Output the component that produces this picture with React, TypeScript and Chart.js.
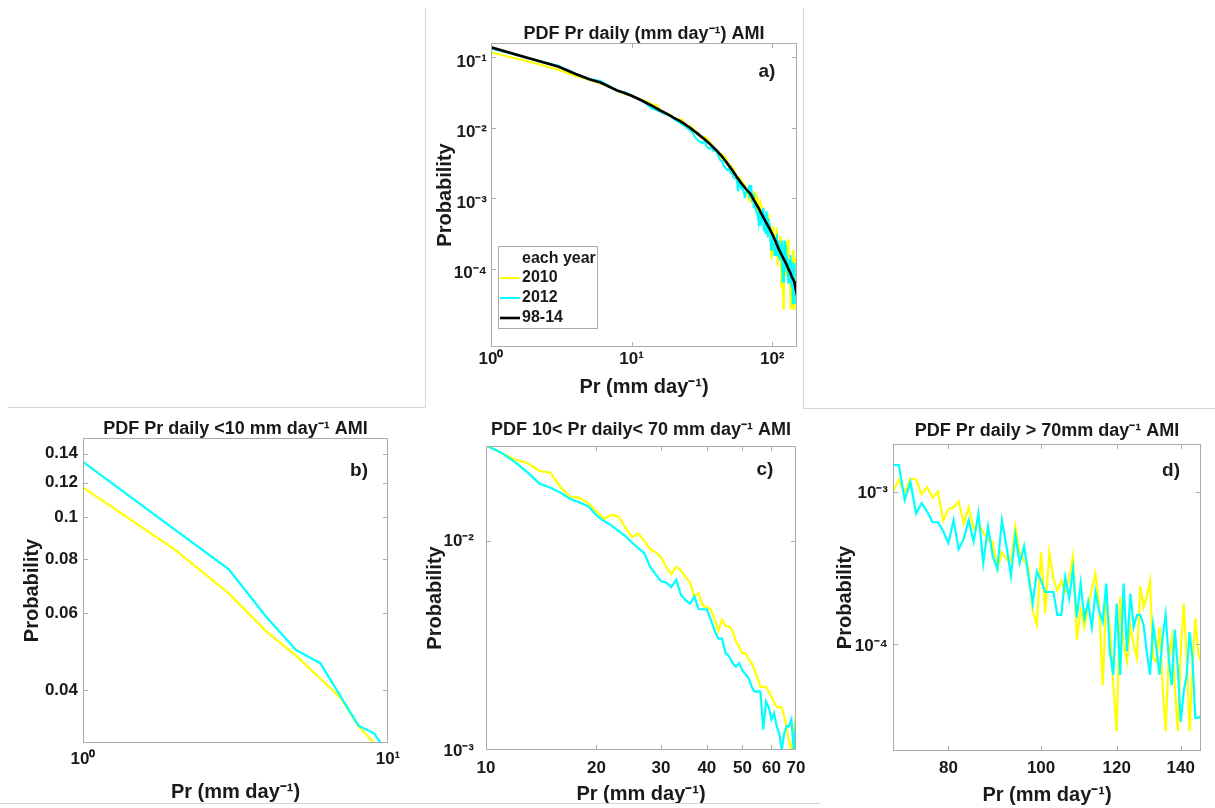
import React, { useEffect, useRef } from "react";
import { Chart, registerables } from "chart.js";

Chart.register(...registerables);

// ---------------- data ----------------
// panel b: Pr < 10 mm/day
const lowX = [1, 2, 3, 4, 5, 6, 7, 8, 9, 10];
const low2010 = [0.117, 0.0841, 0.0668, 0.0545, 0.0479, 0.0425, 0.0383, 0.033, 0.0302, 0.0285];
const low2012 = [0.1339, 0.0935, 0.0759, 0.0588, 0.0494, 0.0461, 0.0386, 0.0331, 0.0318, 0.0285];

// panel c: 10 < Pr < 70 mm/day
const midX = [
  10, 11, 12, 13, 14, 15, 16, 17, 18, 19, 20, 21, 22, 23, 24, 25, 26, 27, 28, 29,
  30, 31, 32, 33, 34, 35, 36, 37, 38, 39, 40, 41, 42, 43, 44, 45, 46, 47, 48, 49,
  50, 51, 52, 53, 54, 55, 56, 57, 58, 59, 60, 61, 62, 63, 64, 65, 66, 67, 68, 69, 70,
];
const mid2010 = [
  0.0285, 0.0263, 0.0244, 0.0234, 0.0215, 0.0211, 0.0179, 0.0162, 0.016, 0.0151,
  0.0138, 0.0127, 0.0133, 0.013, 0.0115, 0.0104, 0.0108, 0.01, 0.0091, 0.0088,
  0.0083, 0.0075, 0.0069, 0.0075, 0.0072, 0.0067, 0.0063, 0.0054, 0.0056, 0.0049,
  0.0048, 0.0047, 0.0042, 0.0037, 0.0042, 0.0039, 0.0039, 0.0037, 0.0033, 0.0031,
  0.0029, 0.0029, 0.0027, 0.0026, 0.0024, 0.0022, 0.002, 0.002, 0.002, 0.0019,
  0.0018, 0.0017, 0.0016, 0.0016, 0.0016, 0.00145, 0.0013, 0.0011, 0.00098, 0.0012, 0.00145,
];
const mid2012 = [
  0.0285, 0.0263, 0.0237, 0.0211, 0.0187, 0.0179, 0.0169, 0.0158, 0.0152, 0.0146,
  0.0132, 0.0124, 0.0118, 0.0111, 0.0105, 0.0098, 0.0092, 0.0087, 0.0075, 0.0069,
  0.0064, 0.0063, 0.006, 0.0065, 0.0055, 0.0052, 0.005, 0.0054, 0.0047, 0.0047,
  0.0047, 0.0042, 0.0037, 0.0034, 0.0034, 0.0029, 0.0028, 0.0026, 0.0025, 0.0026,
  0.0024, 0.0023, 0.0022, 0.002, 0.0019, 0.0019, 0.0019, 0.00125, 0.0017, 0.0016,
  0.0014, 0.0015, 0.0013, 0.0012, 0.001, 0.0012, 0.0013, 0.0013, 0.0014, 0.001, 0.0014,
];

// panel d: Pr > 70 mm/day
const highX = [
  70, 71, 72, 73, 74, 75, 76, 77, 78, 79, 80, 81, 82, 83, 84, 85, 86, 87, 88, 89,
  90, 91, 92, 93, 94, 95, 96, 97, 98, 99, 100, 101, 102, 103, 104, 105, 106, 107, 108, 109,
  110, 111, 112, 113, 114, 115, 116, 117, 118, 119, 120, 121, 122, 123, 124, 125, 126, 127, 128, 129,
  130, 131, 132, 133, 134, 135, 136, 137, 138, 139, 140, 141, 142, 143, 144, 145, 146, 147,
];
const high2010 = [
  1.0e-3, 1.2e-3, 9.8e-4, 1.22e-3, 1.2e-3, 9.6e-4, 1.07e-3, 9.1e-4, 1.0e-3, 6.5e-4,
  7.7e-4, 7.9e-4, 8.6e-4, 6.2e-4, 7.9e-4, 5.7e-4, 6.2e-4, 5.4e-4, 4.8e-4, 4.7e-4,
  3.1e-4, 4.0e-4, 3.6e-4, 3.5e-4, 5.9e-4, 4.0e-4, 3.5e-4, 3.2e-4, 1.65e-4, 1.34e-4,
  4.0e-4, 1.6e-4, 4.0e-4, 2.7e-4, 2.25e-4, 2.6e-4, 2.2e-4, 2.7e-4, 3.75e-4, 1.07e-4,
  1.7e-4, 1.3e-4, 1.75e-4, 2.3e-4, 2.9e-4, 1.8e-4, 5.4e-5, 2.05e-4, 1.3e-4, 5.4e-5,
  2.7e-5, 2.05e-4, 9.9e-5, 7.7e-5, 1.3e-4, 9.9e-5, 8.1e-5, 2.4e-4, 1.75e-4, 2.05e-4,
  2.6e-4, 8.1e-5, 7.7e-5, 1.3e-4, 5.4e-5, 2.7e-5, 8.1e-5, 1.1e-4, 5.4e-5, 2.7e-5,
  8.9e-5, 1.85e-4, 8.1e-5, 2.7e-5, 7.0e-5, 1.48e-4, 8.9e-5, 7.7e-5,
];
const high2012 = [
  1.49e-3, 1.49e-3, 8.8e-4, 1.16e-3, 7.2e-4, 8.4e-4, 7.4e-4, 6.3e-4, 6.3e-4, 5.5e-4,
  4.6e-4, 6.5e-4, 4.2e-4, 4.9e-4, 6.5e-4, 4.7e-4, 7.2e-4, 3.4e-4, 5.9e-4, 3.8e-4,
  3.1e-4, 6.5e-4, 4.4e-4, 2.8e-4, 5.2e-4, 3.4e-4, 4.4e-4, 2.8e-4, 1.85e-4, 3.0e-4,
  2.6e-4, 2.2e-4, 2.2e-4, 2.2e-4, 1.56e-4, 1.56e-4, 2.75e-4, 2.0e-4, 3.1e-4, 1.5e-4,
  2.5e-4, 1.48e-4, 1.9e-4, 1.3e-4, 2.2e-4, 1.65e-4, 1.4e-4, 2.5e-4, 9.0e-5, 6.3e-5,
  1.85e-4, 6.3e-5, 2.5e-4, 9.0e-5, 2.15e-4, 1.3e-4, 1.56e-4, 1.56e-4, 1.34e-4, 9.0e-5,
  6.3e-5, 1.34e-4, 9.5e-5, 6.3e-5, 1.1e-4, 1.56e-4, 8.1e-5, 5.4e-5, 1.25e-4, 7.0e-5,
  3.1e-5, 4.9e-5, 6.2e-5, 1.2e-4, 8.1e-5, 3.3e-5, 3.3e-5, 3.4e-5,
];

// panel a: 1998-2014 climatology
const climX = [
  1, 2, 3, 4, 5, 6, 7, 8, 9, 10, 12, 14, 16, 18, 20, 22, 24, 26, 28, 30, 33, 36, 40, 44,
  48, 52, 56, 60, 65, 70, 75, 80, 85, 90, 95, 100, 105, 110, 115, 120, 125, 130, 135,
  138, 141, 143, 145, 147,
];
const climY = [
  0.139, 0.093, 0.074, 0.058, 0.049, 0.044, 0.038, 0.0335, 0.031, 0.0285, 0.024, 0.0205,
  0.0176, 0.0156, 0.0138, 0.0125, 0.0112, 0.01, 0.0089, 0.008, 0.0069, 0.0059, 0.0048,
  0.0039, 0.0031, 0.0025, 0.002, 0.00165, 0.00135, 0.00115, 0.0009, 0.00072, 0.00057,
  0.00046, 0.00038, 0.00031, 0.00025, 0.0002, 0.000165, 0.00014, 0.00012, 0.0001,
  0.000085, 0.000076, 0.00007, 0.000066, 0.000058, 0.00005,
];

const legendLabels = ["each year", "2010", "2012", "98-14"];

const aXTicks = [1, 10, 100];
const aYTicks = [1e-4, 1e-3, 1e-2, 1e-1];
const bXTicks = [1, 10];
const bYTicks = [0.04, 0.06, 0.08, 0.1, 0.12, 0.14];
const cXTicks = [10, 20, 30, 40, 50, 60, 70];
const cYTicks = [1e-3, 1e-2];
const dXTicks = [80, 100, 120, 140];
const dYTicks = [1e-4, 1e-3];

// full-range yearly series for panel a (built from the panel arrays)
const allX = [...lowX.slice(0, -1), ...midX.slice(0, -1), ...highX];
const all2010 = [...low2010.slice(0, -1), ...mid2010.slice(0, -1), ...high2010];
const all2012 = [...low2012.slice(0, -1), ...mid2012.slice(0, -1), ...high2012];

// ---------------- styling ----------------
const FONT = "'Liberation Sans', Arial, Helvetica, sans-serif";
const YELLOW = "#ffff00";
const CYAN = "#00ffff";
const BLACK = "#000000";
const TEXT = "#1a1a1a";
const FRAME = "#ababab";

const SUP: Record<string, string> = {
  "-": "\u207B", "0": "\u2070", "1": "\u00B9", "2": "\u00B2", "3": "\u00B3",
  "4": "\u2074", "5": "\u2075", "6": "\u2076", "7": "\u2077", "8": "\u2078", "9": "\u2079",
};
const powLabel = (v: number) =>
  "10" + String(Math.round(Math.log10(v))).split("").map((c) => SUP[c]).join("");
const plainLabel = (v: number) => String(v);

const X_TITLE = "Pr (mm day\u207B\u00B9)";
const Y_TITLE = "Probability";

function makeSeries(label: string, xs: number[], ys: number[], color: string, width: number, order: number) {
  return {
    label,
    data: xs.map((x, i) => ({ x, y: ys[i] })),
    borderColor: color,
    backgroundColor: color,
    borderWidth: width,
    pointRadius: 0,
    tension: 0,
    fill: false,
    order,
  };
}

const panels: any[] = [
  {
    key: "a",
    box: { x: 420, y: 0, w: 390, h: 405 },
    padRight: 13,
    title: "PDF Pr daily (mm day\u207B\u00B9) AMI",
    titlePad: { top: 25, bottom: 0 },
    yAxisW: 71, yTitlePad: 13, yTickPad: 4, yLabelOffset: 5,
    xAxisH: 58, xTitlePad: 6, xTickPad: 2,
    xMin: 1, xMax: 150, yMin: 7.7e-6, yMax: 0.16,
    xTicks: aXTicks, yTicks: aYTicks, xFmt: powLabel, yFmt: powLabel,
    letter: "a)", letterDx: -30, letterDy: 29,
    legend: true,
    datasets: [
      makeSeries("98-14", climX, climY, BLACK, 2.6, 0),
      makeSeries("2012", allX, all2012, CYAN, 2, 1),
      makeSeries("2010", allX, all2010, YELLOW, 2, 2),
    ],
  },
  {
    key: "b",
    box: { x: 0, y: 405, w: 410, h: 403 },
    padRight: 22,
    title: "PDF Pr daily <10 mm day\u207B\u00B9 AMI",
    titlePad: { top: 15, bottom: 0 },
    yAxisW: 83, yTitlePad: 20, yTickPad: 5, yLabelOffset: 0,
    xAxisH: 65, xTitlePad: 4, xTickPad: 6,
    xMin: 1, xMax: 10, yMin: 0.0302, yMax: 0.152,
    xTicks: bXTicks, yTicks: bYTicks, xFmt: powLabel, yFmt: plainLabel,
    letter: "b)", letterDx: -29, letterDy: 33,
    legend: false,
    datasets: [
      makeSeries("2012", lowX, low2012, CYAN, 2.2, 1),
      makeSeries("2010", lowX, low2010, YELLOW, 2.2, 2),
    ],
  },
  {
    key: "c",
    box: { x: 410, y: 405, w: 410, h: 403 },
    padRight: 24,
    title: "PDF 10< Pr daily< 70 mm day\u207B\u00B9 AMI",
    titlePad: { top: 16, bottom: 7 },
    yAxisW: 76, yTitlePad: 13, yTickPad: 12, yLabelOffset: 1,
    xAxisH: 58, xTitlePad: 2, xTickPad: 8,
    xMin: 10, xMax: 70, yMin: 1e-3, yMax: 0.0283,
    xTicks: cXTicks, yTicks: cYTicks, xFmt: plainLabel, yFmt: powLabel,
    letter: "c)", letterDx: -31, letterDy: 24,
    legend: false,
    datasets: [
      makeSeries("2012", midX, mid2012, CYAN, 2.2, 1),
      makeSeries("2010", midX, mid2010, YELLOW, 2.2, 2),
    ],
  },
  {
    key: "d",
    box: { x: 820, y: 405, w: 395, h: 403 },
    padRight: 14,
    title: "PDF Pr daily > 70mm day\u207B\u00B9 AMI",
    titlePad: { top: 17, bottom: 4 },
    yAxisW: 73, yTitlePad: 13, yTickPad: 5, yLabelOffset: 2,
    xAxisH: 57, xTitlePad: 1, xTickPad: 7,
    xMin: 70, xMax: 147, yMin: 2.0e-5, yMax: 2.05e-3,
    xTicks: dXTicks, yTicks: dYTicks, xFmt: plainLabel, yFmt: powLabel,
    letter: "d)", letterDx: -30, letterDy: 27,
    legend: false,
    datasets: [
      makeSeries("2012", highX, high2012, CYAN, 2.2, 1),
      makeSeries("2010", highX, high2010, YELLOW, 2.2, 2),
    ],
  },
];

function makeDecor(spec: any) {
  return {
    id: "decor_" + spec.key,
    afterDatasetsDraw(chart: any) {
      const ctx = chart.ctx;
      const { left, right, top, bottom } = chart.chartArea;
      const xs = chart.scales.x;
      const ys = chart.scales.y;
      ctx.save();
      ctx.strokeStyle = FRAME;
      ctx.lineWidth = 1;
      ctx.beginPath();
      for (const v of spec.xTicks) {
        const px = Math.round(xs.getPixelForValue(v)) + 0.5;
        if (px <= left + 2 || px >= right - 2) continue;
        ctx.moveTo(px, bottom);
        ctx.lineTo(px, bottom - 5);
        ctx.moveTo(px, top);
        ctx.lineTo(px, top + 5);
      }
      for (const v of spec.yTicks) {
        const py = Math.round(ys.getPixelForValue(v)) + 0.5;
        if (py <= top + 2 || py >= bottom - 2) continue;
        ctx.moveTo(left, py);
        ctx.lineTo(left + 5, py);
        ctx.moveTo(right, py);
        ctx.lineTo(right - 5, py);
      }
      ctx.stroke();
      ctx.strokeRect(
        Math.round(left) + 0.5,
        Math.round(top) + 0.5,
        Math.round(right - left) - 1,
        Math.round(bottom - top) - 1
      );

      // panel letter
      ctx.fillStyle = TEXT;
      ctx.font = `bold 19px ${FONT}`;
      ctx.textAlign = "center";
      ctx.textBaseline = "middle";
      ctx.fillText(spec.letter, right + spec.letterDx, top + spec.letterDy);

      // legend (panel a)
      if (spec.legend) {
        const w = 99;
        const h = 82;
        const L = Math.round(left) + 7;
        const T = Math.round(bottom) - 19 - h;
        ctx.fillStyle = "#ffffff";
        ctx.fillRect(L, T, w, h);
        ctx.strokeStyle = FRAME;
        ctx.strokeRect(L + 0.5, T + 0.5, w, h);
        const rows = [13, 32, 52, 72];
        const colors = [null, YELLOW, CYAN, BLACK];
        const widths = [0, 2, 2, 2.6];
        ctx.font = `bold 16px ${FONT}`;
        ctx.textAlign = "left";
        ctx.textBaseline = "middle";
        legendLabels.forEach((lab, i) => {
          const y = T + rows[i];
          const c = colors[i];
          if (c) {
            ctx.strokeStyle = c;
            ctx.lineWidth = widths[i];
            ctx.beginPath();
            ctx.moveTo(L + 2, y);
            ctx.lineTo(L + 22, y);
            ctx.stroke();
          }
          ctx.fillStyle = TEXT;
          ctx.fillText(lab, L + 24, y);
        });
      }
      ctx.restore();
    },
  };
}

function buildConfig(spec: any): any {
  const tickFont = { family: FONT, size: 17, weight: "bold" as const, lineHeight: 1.2 };
  const axisTitleFont = { family: FONT, size: 20, weight: "bold" as const, lineHeight: 1.2 };
  return {
    type: "line",
    data: { datasets: spec.datasets },
    options: {
      responsive: false,
      maintainAspectRatio: false,
      animation: false,
      devicePixelRatio: 1,
      events: [],
      layout: { padding: { left: 0, right: spec.padRight, top: 0, bottom: 0 } },
      plugins: {
        legend: { display: false },
        tooltip: { enabled: false },
        title: {
          display: true,
          text: spec.title,
          fullSize: false,
          color: TEXT,
          font: { family: FONT, size: 18, weight: "bold", lineHeight: 1 },
          padding: spec.titlePad,
        },
      },
      scales: {
        x: {
          type: "logarithmic",
          bounds: "data",
          min: spec.xMin,
          max: spec.xMax,
          afterBuildTicks: (s: any) => {
            s.ticks = spec.xTicks.map((v: number) => ({ value: v }));
          },
          afterFit: (s: any) => {
            s.height = spec.xAxisH;
            s.paddingLeft = 0;
            s.paddingRight = 0;
          },
          grid: { display: false, drawTicks: false, tickLength: 0 },
          border: { display: false },
          ticks: {
            autoSkip: false,
            maxRotation: 0,
            minRotation: 0,
            padding: spec.xTickPad,
            color: TEXT,
            font: tickFont,
            callback: (v: any) => spec.xFmt(Number(v)),
          },
          title: {
            display: true,
            text: X_TITLE,
            color: TEXT,
            font: axisTitleFont,
            padding: { top: 0, bottom: spec.xTitlePad },
          },
        },
        y: {
          type: "logarithmic",
          bounds: "data",
          min: spec.yMin,
          max: spec.yMax,
          afterBuildTicks: (s: any) => {
            s.ticks = spec.yTicks.map((v: number) => ({ value: v }));
          },
          afterFit: (s: any) => {
            s.width = spec.yAxisW;
            s.paddingTop = 0;
            s.paddingBottom = 0;
          },
          grid: { display: false, drawTicks: false, tickLength: 0 },
          border: { display: false },
          ticks: {
            autoSkip: false,
            padding: spec.yTickPad,
            labelOffset: spec.yLabelOffset,
            color: TEXT,
            font: tickFont,
            callback: (v: any) => spec.yFmt(Number(v)),
          },
          title: {
            display: true,
            text: Y_TITLE,
            color: TEXT,
            font: axisTitleFont,
            padding: { top: spec.yTitlePad, bottom: 0 },
          },
        },
      },
    },
    plugins: [makeDecor(spec)],
  };
}

function Panel({ spec }: { spec: any }) {
  const ref = useRef<HTMLCanvasElement | null>(null);
  useEffect(() => {
    if (!ref.current) return;
    const chart = new Chart(ref.current, buildConfig(spec));
    return () => chart.destroy();
  }, [spec]);
  return (
    <canvas
      ref={ref}
      width={spec.box.w}
      height={spec.box.h}
      style={{
        position: "absolute",
        left: spec.box.x,
        top: spec.box.y,
        width: spec.box.w,
        height: spec.box.h,
        display: "block",
      }}
    />
  );
}

const rule = (x: number, y: number, w: number, h: number) => (
  <div
    key={`${x}-${y}-${w}-${h}`}
    style={{ position: "absolute", left: x, top: y, width: w, height: h, background: "#d6d6d6" }}
  />
);

export default function App() {
  return (
    <div
      style={{
        position: "absolute",
        left: 0,
        top: 0,
        width: 1215,
        height: 808,
        background: "#ffffff",
        overflow: "hidden",
      }}
    >
      {panels.map((p) => (
        <Panel key={p.key} spec={p} />
      ))}
      {rule(425, 8, 1, 399)}
      {rule(803, 8, 1, 400)}
      {rule(8, 407, 418, 1)}
      {rule(803, 408, 412, 1)}
      {rule(0, 803, 820, 1)}
    </div>
  );
}
